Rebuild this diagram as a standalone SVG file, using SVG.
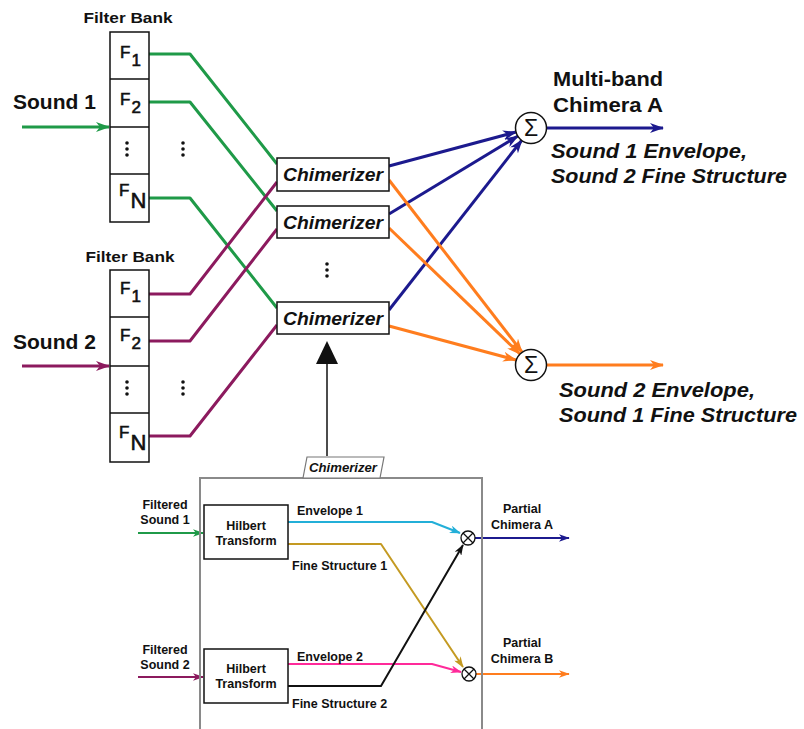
<svg xmlns="http://www.w3.org/2000/svg" width="804" height="729" viewBox="0 0 804 729">
<style>
text{font-family:"Liberation Sans",Arial,sans-serif;font-weight:bold;fill:#111}
.it{font-style:italic}
.box{fill:#fff;stroke:#111;stroke-width:1.5}
.ln{fill:none;stroke-width:3;stroke-linejoin:round}
.sl{fill:none;stroke-width:2;stroke-linejoin:round}
.g{stroke:#1f9a48}.p{stroke:#8c1a5e}.b{stroke:#1c1a8e}.o{stroke:#ff7d1e}
.c{stroke:#23afd8}.y{stroke:#c49a22}.k{stroke:#111}.m{stroke:#ff2a9a}
.fb{font-size:15px}
.ff{font-size:17px;font-weight:normal;stroke:#111;stroke-width:0.6}
.sub{font-size:17px}
.sm{font-size:12.5px}
.big{font-size:21px}
.chim{font-size:18px;font-style:italic}
.sig{font-size:23px;font-weight:normal}
</style>
<defs>
<marker id="ag" viewBox="0 0 14 10" refX="13" refY="5" markerWidth="14" markerHeight="10" markerUnits="userSpaceOnUse" orient="auto"><path d="M0,0L14,5L0,10L4,5z" fill="#1f9a48"/></marker>
<marker id="ap" viewBox="0 0 14 10" refX="13" refY="5" markerWidth="14" markerHeight="10" markerUnits="userSpaceOnUse" orient="auto"><path d="M0,0L14,5L0,10L4,5z" fill="#8c1a5e"/></marker>
<marker id="ab" viewBox="0 0 14 10" refX="13" refY="5" markerWidth="14" markerHeight="10" markerUnits="userSpaceOnUse" orient="auto"><path d="M0,0L14,5L0,10L4,5z" fill="#1c1a8e"/></marker>
<marker id="ao" viewBox="0 0 14 10" refX="13" refY="5" markerWidth="14" markerHeight="10" markerUnits="userSpaceOnUse" orient="auto"><path d="M0,0L14,5L0,10L4,5z" fill="#ff7d1e"/></marker>
<marker id="sg" viewBox="0 0 14 10" refX="13" refY="5" markerWidth="11" markerHeight="8" markerUnits="userSpaceOnUse" orient="auto"><path d="M0,0L14,5L0,10L4,5z" fill="#1f9a48"/></marker>
<marker id="sp" viewBox="0 0 14 10" refX="13" refY="5" markerWidth="11" markerHeight="8" markerUnits="userSpaceOnUse" orient="auto"><path d="M0,0L14,5L0,10L4,5z" fill="#8c1a5e"/></marker>
<marker id="sb" viewBox="0 0 14 10" refX="13" refY="5" markerWidth="11" markerHeight="8" markerUnits="userSpaceOnUse" orient="auto"><path d="M0,0L14,5L0,10L4,5z" fill="#1c1a8e"/></marker>
<marker id="so" viewBox="0 0 14 10" refX="13" refY="5" markerWidth="11" markerHeight="8" markerUnits="userSpaceOnUse" orient="auto"><path d="M0,0L14,5L0,10L4,5z" fill="#ff7d1e"/></marker>
<marker id="sc" viewBox="0 0 14 10" refX="13" refY="5" markerWidth="11" markerHeight="8" markerUnits="userSpaceOnUse" orient="auto"><path d="M0,0L14,5L0,10L4,5z" fill="#23afd8"/></marker>
<marker id="sy" viewBox="0 0 14 10" refX="13" refY="5" markerWidth="11" markerHeight="8" markerUnits="userSpaceOnUse" orient="auto"><path d="M0,0L14,5L0,10L4,5z" fill="#c49a22"/></marker>
<marker id="sm" viewBox="0 0 14 10" refX="13" refY="5" markerWidth="11" markerHeight="8" markerUnits="userSpaceOnUse" orient="auto"><path d="M0,0L14,5L0,10L4,5z" fill="#ff2a9a"/></marker>
<marker id="sk" viewBox="0 0 14 10" refX="13" refY="5" markerWidth="11" markerHeight="8" markerUnits="userSpaceOnUse" orient="auto"><path d="M0,0L14,5L0,10L4,5z" fill="#111"/></marker>
</defs>

<g id="connectors">
<path class="ln g" d="M149,54H190L277,164"/>
<path class="ln g" d="M149,102H190L277,211"/>
<path class="ln g" d="M149,198H190L277,308"/>
<path class="ln p" d="M149,294H190L277,182"/>
<path class="ln p" d="M149,341H190L277,229"/>
<path class="ln p" d="M149,436H190L277,325"/>
<path class="ln g" d="M22,127H109" marker-end="url(#ag)"/>
<path class="ln p" d="M22,366H109" marker-end="url(#ap)"/>
<path class="ln b" d="M389,166L516,132" marker-end="url(#ab)"/>
<path class="ln b" d="M389,214L518,136" marker-end="url(#ab)"/>
<path class="ln b" d="M389,310L522,140" marker-end="url(#ab)"/>
<path class="ln o" d="M389,180L522,352" marker-end="url(#ao)"/>
<path class="ln o" d="M389,228L520,354" marker-end="url(#ao)"/>
<path class="ln o" d="M389,326L516,360" marker-end="url(#ao)"/>
<path class="ln b" d="M546,128H663" marker-end="url(#ab)"/>
<path class="ln o" d="M546,365H663" marker-end="url(#ao)"/>
<polygon points="327,341 316,364 338,364" fill="#111"/>
<path d="M327,364V456" stroke="#111" stroke-width="1.5"/>
<path class="sl g" d="M138,533H203" marker-end="url(#sg)"/>
<path class="sl p" d="M138,677H203" marker-end="url(#sp)"/>
<path class="sl c" d="M288,522H432L460,533" marker-end="url(#sc)"/>
<path class="sl y" d="M288,544H381L463,667" marker-end="url(#sy)"/>
<path class="sl m" d="M288,664H432L461,672" marker-end="url(#sm)"/>
<path class="sl k" d="M288,686H381L463,545" marker-end="url(#sk)"/>
<path class="sl b" d="M475,538H569" marker-end="url(#sb)"/>
<path class="sl o" d="M476,674H569" marker-end="url(#so)"/>
</g>

<g id="filterbank1">
<text class="fb" x="128" y="23" text-anchor="middle" textLength="89" lengthAdjust="spacingAndGlyphs">Filter Bank</text>
<rect class="box" x="110" y="32" width="39" height="190"/>
<path d="M110,79H149M110,127H149M110,174H149" stroke="#111" stroke-width="1.5"/>
<text class="ff" x="120" y="58">F<tspan class="sub" dx="1" dy="8">1</tspan></text>
<text class="ff" x="120" y="105">F<tspan class="sub" dx="1" dy="8">2</tspan></text>
<text class="ff" x="119" y="196">F<tspan dx="1" dy="12" font-size="22">N</tspan></text>
<g fill="#111"><circle cx="127" cy="143" r="1.8"/><circle cx="127" cy="149" r="1.8"/><circle cx="127" cy="155" r="1.8"/>
<circle cx="183" cy="143" r="1.8"/><circle cx="183" cy="149" r="1.8"/><circle cx="183" cy="155" r="1.8"/></g>
</g>
<g id="sound1"><text x="13" y="109" font-size="21">Sound 1</text></g>

<g id="filterbank2">
<text class="fb" x="130" y="262" text-anchor="middle" textLength="89" lengthAdjust="spacingAndGlyphs">Filter Bank</text>
<rect class="box" x="110" y="270" width="39" height="192"/>
<path d="M110,317H149M110,366H149M110,413H149" stroke="#111" stroke-width="1.5"/>
<text class="ff" x="120" y="294">F<tspan class="sub" dx="1" dy="8">1</tspan></text>
<text class="ff" x="120" y="341">F<tspan class="sub" dx="1" dy="8">2</tspan></text>
<text class="ff" x="119" y="438">F<tspan dx="1" dy="12" font-size="22">N</tspan></text>
<g fill="#111"><circle cx="127" cy="382" r="1.8"/><circle cx="127" cy="388" r="1.8"/><circle cx="127" cy="394" r="1.8"/>
<circle cx="183" cy="382" r="1.8"/><circle cx="183" cy="388" r="1.8"/><circle cx="183" cy="394" r="1.8"/></g>
</g>
<g id="sound2"><text x="13" y="349" font-size="21">Sound 2</text></g>

<g id="chimerizer1"><rect class="box" x="277" y="158" width="112" height="33"/><text class="chim" x="333" y="181" text-anchor="middle" textLength="100" lengthAdjust="spacingAndGlyphs">Chimerizer</text></g>
<g id="chimerizer2"><rect class="box" x="277" y="206" width="112" height="32"/><text class="chim" x="333" y="229" text-anchor="middle" textLength="100" lengthAdjust="spacingAndGlyphs">Chimerizer</text></g>
<g id="chimerizerdots" fill="#111"><circle cx="327" cy="264" r="1.8"/><circle cx="327" cy="270" r="1.8"/><circle cx="327" cy="276" r="1.8"/></g>
<g id="chimerizer3"><rect class="box" x="277" y="302" width="112" height="32"/><text class="chim" x="333" y="325" text-anchor="middle" textLength="100" lengthAdjust="spacingAndGlyphs">Chimerizer</text></g>

<g id="sumA"><circle cx="531" cy="128" r="15.5" fill="#fff" stroke="#111" stroke-width="1.5"/><text class="sig" x="531" y="136" text-anchor="middle">Σ</text></g>
<g id="sumB"><circle cx="531" cy="365" r="15.5" fill="#fff" stroke="#111" stroke-width="1.5"/><text class="sig" x="531" y="373" text-anchor="middle">Σ</text></g>

<g id="labelA">
<text class="big" x="553" y="86" textLength="110" lengthAdjust="spacingAndGlyphs">Multi-band</text>
<text class="big" x="553" y="112" textLength="110" lengthAdjust="spacingAndGlyphs">Chimera A</text>
<text class="it big" x="551" y="158" textLength="196" lengthAdjust="spacingAndGlyphs">Sound 1 Envelope,</text>
<text class="it big" x="551" y="183" textLength="236" lengthAdjust="spacingAndGlyphs">Sound 2 Fine Structure</text>
</g>
<g id="labelB">
<text class="it big" x="559" y="397" textLength="196" lengthAdjust="spacingAndGlyphs">Sound 2 Envelope,</text>
<text class="it big" x="559" y="422" textLength="238" lengthAdjust="spacingAndGlyphs">Sound 1 Fine Structure</text>
</g>

<g id="inset">
<rect x="200" y="478" width="282" height="270" fill="none" stroke="#8a8a8a" stroke-width="2"/>
<polygon points="303,478 307,457 384,457 380,478" fill="#fff" stroke="#777" stroke-width="1.2"/>
<text class="it" x="343" y="472" font-size="12" text-anchor="middle" textLength="68" lengthAdjust="spacingAndGlyphs">Chimerizer</text>
</g>
<g id="filtered1"><text class="sm" x="165" y="509" text-anchor="middle">Filtered</text><text class="sm" x="165" y="524" text-anchor="middle">Sound 1</text></g>
<g id="filtered2"><text class="sm" x="165" y="654" text-anchor="middle">Filtered</text><text class="sm" x="165" y="669" text-anchor="middle">Sound 2</text></g>
<g id="hilbert1"><rect class="box" x="204" y="505" width="84" height="54"/><text class="sm" x="246" y="530" text-anchor="middle">Hilbert</text><text class="sm" x="246" y="545" text-anchor="middle">Transform</text></g>
<g id="hilbert2"><rect class="box" x="204" y="649" width="84" height="54"/><text class="sm" x="246" y="673" text-anchor="middle">Hilbert</text><text class="sm" x="246" y="688" text-anchor="middle">Transform</text></g>
<g id="inset-labels">
<text class="sm" x="297" y="515">Envelope 1</text>
<text class="sm" x="292" y="570">Fine Structure 1</text>
<text class="sm" x="297" y="661">Envelope 2</text>
<text class="sm" x="292" y="708">Fine Structure 2</text>
</g>
<g id="multA"><circle cx="468" cy="538" r="7" fill="#fff" stroke="#111" stroke-width="1.3"/><path d="M463,533L473,543M473,533L463,543" stroke="#111" stroke-width="1.3"/></g>
<g id="multB"><circle cx="469" cy="674" r="7" fill="#fff" stroke="#111" stroke-width="1.3"/><path d="M464,669L474,679M474,669L464,679" stroke="#111" stroke-width="1.3"/></g>
<g id="partialA"><text class="sm" x="522" y="513" text-anchor="middle">Partial</text><text class="sm" x="522" y="529" text-anchor="middle">Chimera A</text></g>
<g id="partialB"><text class="sm" x="522" y="647" text-anchor="middle">Partial</text><text class="sm" x="522" y="663" text-anchor="middle">Chimera B</text></g>
</svg>
